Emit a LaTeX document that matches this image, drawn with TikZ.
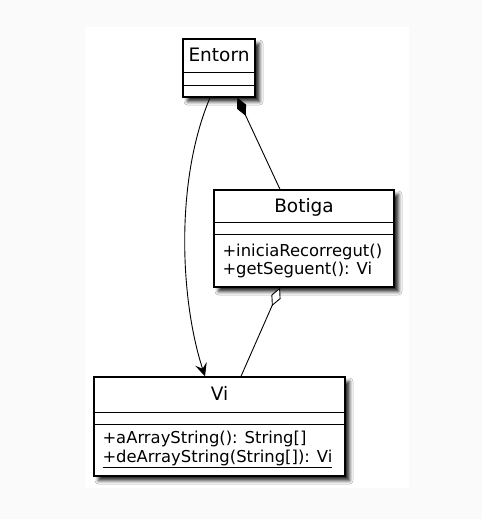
\documentclass[tikz,border=0pt]{standalone}
\usepackage{fontspec}
\setmainfont{DejaVu Sans}
\usetikzlibrary{arrows.meta,calc,shadows.blur}

\tikzset{
  umlclass/.style={draw, rectangle, line width=1.4pt, fill=white, inner sep=0pt,
    blur shadow={shadow xshift=4.5pt, shadow yshift=-4.5pt, shadow blur radius=3.5pt, shadow opacity=85}},
  classname/.style={anchor=base, inner sep=0pt, font=\fontsize{18.5}{22}\selectfont},
  member/.style={anchor=base west, inner sep=0pt, font=\fontsize{16.4}{19}\selectfont},
  divider/.style={line width=1.2pt},
  link/.style={line width=0.9pt}
}

\begin{document}
\begin{tikzpicture}[x=1pt, y=-1pt, >={Stealth[length=13pt, width=12pt, inset=5pt]}]

\fill[black!2] (0,0) rectangle (482,519);
\fill[white] (85,27) rectangle (409,488);
\useasboundingbox (0,0) rectangle (482,519);

\node[umlclass, minimum width=72pt, minimum height=58pt] at (219, 68) (entorn) {};
\node[classname] at ($(entorn.north)+(0,23)$) (entornname) {Entorn};
    \draw[divider] ($(entorn.north west)+(0,34)$) -- ($(entorn.north east)+(0,34)$);
    \draw[divider] ($(entorn.north west)+(0,47)$) -- ($(entorn.north east)+(0,47)$);

\node[umlclass, minimum width=180pt, minimum height=97pt] at (304, 238.5) (botiga) {};
\node[classname] at ($(botiga.north)+(0,23)$) (botiganame) {Botiga};
    \draw[divider] ($(botiga.north west)+(0,33)$) -- ($(botiga.north east)+(0,33)$);
    \draw[divider] ($(botiga.north west)+(0,45)$) -- ($(botiga.north east)+(0,45)$);
\node[member] at ($(botiga.north west)+(9,67)$) (botigaop1) {+iniciaRecorregut()};
\node[member] at ($(botiga.north west)+(9,85)$) (botigaop2) {+getSeguent(): Vi};

\node[umlclass, minimum width=251pt, minimum height=99pt] at (219.5, 426.5) (vi) {};
\node[classname] at ($(vi.north)+(0,24)$) (viname) {Vi};
    \draw[divider] ($(vi.north west)+(0,36)$) -- ($(vi.north east)+(0,36)$);
    \draw[divider] ($(vi.north west)+(0,48)$) -- ($(vi.north east)+(0,48)$);
\node[member] at ($(vi.north west)+(9,67)$) (viop1) {+aArrayString(): String[]};
\node[member] at ($(vi.north west)+(9,86)$) (viop2) {\underline{+deArrayString(String[]): Vi}};

% associations
    \draw[link, ->] ($(entorn.south)+(-9,0)$) .. controls +(-35,83) and +(-25,-77) .. ($(vi.north)+(-14.5,0)$);
    \draw[link, {Diamond[length=20pt, width=10pt]}-] ($(entorn.south)!0.5!(entorn.south east)$) -- ($(botiga.north)+(-24,0)$);
    \draw[link, {Diamond[open, fill=white, length=20pt, width=10pt]}-] ($(botiga.south)+(-24,0)$) -- ($(vi.north)+(21.5,0)$);
\end{tikzpicture}
\end{document}
